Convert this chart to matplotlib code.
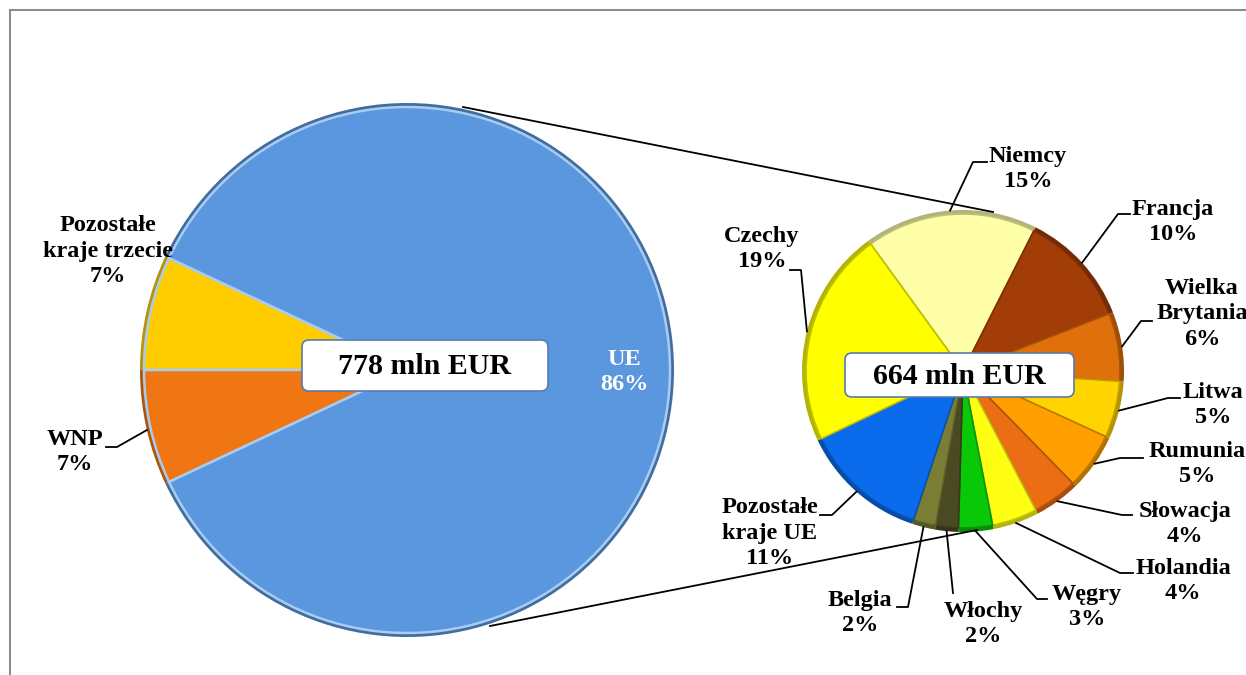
import numpy as np
import matplotlib
matplotlib.use('Agg')
import matplotlib.pyplot as plt
from matplotlib.colors import to_rgb
from matplotlib.patches import FancyBboxPatch, Rectangle

plt.rcParams['font.family'] = ['Liberation Serif', 'DejaVu Serif']

# dane - wykres główny (udział w eksporcie ogółem)
main_labels = ['Pozostałe\nkraje trzecie', 'WNP', 'UE']
main_values = [7, 7, 86]
main_colors = ['#FFCC00', '#F07614', '#5B97DE']

# dane - rozbicie UE
eu_labels = ['Niemcy', 'Francja', 'Wielka\nBrytania', 'Litwa', 'Rumunia', 'Słowacja',
             'Holandia', 'Węgry', 'Włochy', 'Belgia', 'Pozostałe\nkraje UE', 'Czechy']
eu_values = [15, 10, 6, 5, 5, 4, 4, 3, 2, 2, 11, 19]
eu_colors = ['#FFFFA8', '#A33D08', '#E0700C', '#FFD400', '#FFA000', '#EC6E14',
             '#FFFF14', '#08C808', '#4A4A22', '#7A7E34', '#0A6CEC', '#FFFF00']

main_total = '778 mln EUR'
eu_total = '664 mln EUR'

W, H = 1246, 675


def Y(p):
    # piksele liczone od góry -> współrzędne osi
    return H - p


def shade(c, f):
    r, g, b = to_rgb(c)
    return (r * f, g * f, b * f)


fig = plt.figure(figsize=(W / 100, H / 100), dpi=100)
ax = fig.add_axes([0, 0, 1, 1])

# lewy wykres kołowy
c1, r1 = (407, Y(370)), 267
start1 = 180 - main_values[0] / sum(main_values) * 360
w_base, _ = ax.pie(main_values, colors=[shade(c, 0.72) for c in main_colors], startangle=start1,
                   center=c1, radius=r1, wedgeprops=dict(linewidth=0))
w_top, _ = ax.pie(main_values, colors=main_colors, startangle=start1,
                  center=c1, radius=r1 * 0.985,
                  wedgeprops=dict(linewidth=1.8, edgecolor='#A8CCF2'))

# prawy wykres kołowy
c2, r2 = (963, Y(371)), 161
start2 = 126
w2_base, _ = ax.pie(eu_values, colors=[shade(c, 0.7) for c in eu_colors], startangle=start2,
                    counterclock=False, center=c2, radius=r2, wedgeprops=dict(linewidth=0))
w2_top, _ = ax.pie(eu_values, colors=eu_colors, startangle=start2, counterclock=False,
                   center=c2, radius=r2 * 0.975, wedgeprops=dict(linewidth=1.2))
for w, col in zip(w2_top, eu_colors):
    w.set_edgecolor(shade(col, 0.75))

# linie łączące
ax.plot([463, 993], [Y(107), Y(212)], color='black', lw=1.3)
ax.plot([490, 977], [Y(626), Y(530)], color='black', lw=1.3)

lab_font = dict(fontsize=17.5, fontweight='bold', ha='center', va='center', linespacing=1.3)

# etykiety lewego wykresu
ax.text(108, Y(251), '%s\n%d%%' % (main_labels[0], main_values[0]), **lab_font)
ax.text(75, Y(452), '%s\n%d%%' % (main_labels[1], main_values[1]), **lab_font)
ax.text(624, Y(372), '%s\n%d%%' % (main_labels[2], main_values[2]), color='white', **lab_font)
ax.plot([147, 117, 106], [Y(430), Y(447), Y(447)], color='black', lw=1.3)

# etykiety prawego wykresu: środek tekstu i łamana linii odniesienia
eu_text_pos = [(1028, 169), (1173, 222), (1202, 314), (1213, 405), (1197, 464), (1185, 524),
               (1183, 581), (1087, 607), (983, 624), (860, 613), (770, 533), (762, 249)]
eu_leader = [[(973, 162), (987, 162)], [(1118, 214), (1130, 214)], [(1141, 321), (1152, 321)],
             [(1168, 398), (1180, 398)], [(1120, 458), (1143, 458)], [(1122, 515), (1132, 515)],
             [(1120, 573), (1133, 573)], [(1037, 599), (1047, 599)], [(953, 593)],
             [(908, 607), (897, 607)], [(832, 515), (820, 515)], [(801, 270), (790, 270)]]

for w, lab, val, pos, pts in zip(w2_top, eu_labels, eu_values, eu_text_pos, eu_leader):
    ang = np.deg2rad((w.theta1 + w.theta2) / 2)
    x0 = c2[0] + r2 * np.cos(ang)
    y0 = c2[1] + r2 * np.sin(ang)
    xs = [x0] + [p[0] for p in pts]
    ys = [y0] + [Y(p[1]) for p in pts]
    ax.plot(xs, ys, color='black', lw=1.3)
    ax.text(pos[0], Y(pos[1]), '%s\n%d%%' % (lab, val), **lab_font)

# ramki z sumami
for (x0, y0, x1, y1), txt in [((302, 340, 548, 391), main_total),
                              ((845, 353, 1074, 397), eu_total)]:
    box = FancyBboxPatch((x0, Y(y1)), x1 - x0, y1 - y0,
                         boxstyle='round,pad=0,rounding_size=7',
                         facecolor='white', edgecolor='#5A7BA8', lw=1.2, zorder=5)
    ax.add_patch(box)
    ax.text((x0 + x1) / 2, Y((y0 + y1) / 2 + 1), txt, fontsize=21.5, fontweight='bold',
            ha='center', va='center', zorder=6)

# obramowanie obszaru wykresu
ax.add_patch(Rectangle((9.5, -10), W + 20, Y(10) + 10, fill=False,
                       edgecolor='#8C8C8C', lw=1.5))

ax.set_xlim(0, W)
ax.set_ylim(0, H)
ax.set_aspect('equal')
ax.axis('off')

fig.savefig('out.png', dpi=100)
